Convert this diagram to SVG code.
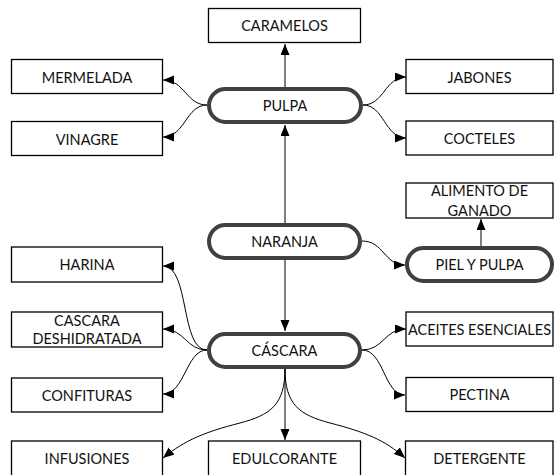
<svg xmlns="http://www.w3.org/2000/svg" width="555" height="475" viewBox="0 0 555 475">
<style>
.box{fill:#fff;stroke:#000;stroke-width:1.3}
.pill{fill:#fff;stroke:#404040;stroke-width:4}
text{font-family:Lato,"Open Sans",sans-serif;font-size:14.5px;fill:#111;text-anchor:middle}
.c{fill:none;stroke:#000;stroke-width:1}
</style>
<defs>
<marker id="ah" markerUnits="userSpaceOnUse" markerWidth="12" markerHeight="10" refX="11" refY="4.5" orient="auto">
<path d="M0,0 L11,4.5 L0,9 z" fill="#000"/>
</marker>
</defs>
<rect width="555" height="475" fill="#fff"/>
<g id="connectors">
<path class="c" d="M285,87 L285,44" marker-end="url(#ah)"/>
<path class="c" d="M285,223 L285,125" marker-end="url(#ah)"/>
<path class="c" d="M285,260 L285,331" marker-end="url(#ah)"/>
<path class="c" d="M481,246 L481,219" marker-end="url(#ah)"/>
<path class="c" d="M285,369 L285,440" marker-end="url(#ah)"/>
<path class="c" d="M207,105 C186,105 185,80 163,80" marker-end="url(#ah)"/>
<path class="c" d="M207,105 C186,105 185,137 163,137" marker-end="url(#ah)"/>
<path class="c" d="M363,105 C384,105 385,77 406,77" marker-end="url(#ah)"/>
<path class="c" d="M363,105 C384,105 385,138 406,138" marker-end="url(#ah)"/>
<path class="c" d="M362,241 C384,241 384,265 405,265" marker-end="url(#ah)"/>
<path class="c" d="M207,350 C180,350 190,266 163,266" marker-end="url(#ah)"/>
<path class="c" d="M207,350 C186,350 185,329 163,329" marker-end="url(#ah)"/>
<path class="c" d="M207,350 C186,350 185,394 163,394" marker-end="url(#ah)"/>
<path class="c" d="M362,350 C384,350 384,329 406,329" marker-end="url(#ah)"/>
<path class="c" d="M362,350 C384,350 384,395 405,395" marker-end="url(#ah)"/>
<path class="c" d="M285,369 C285,405 270,415 240,423 C205,432 185,440 163,458" marker-end="url(#ah)"/>
<path class="c" d="M285,369 C285,405 300,415 330,423 C365,432 385,440 405,458" marker-end="url(#ah)"/>
</g>
<g id="caramelos"><rect class="box" x="208.5" y="8.5" width="152" height="34"/><text x="284.5" y="31">CARAMELOS</text></g>
<g id="mermelada"><rect class="box" x="11.5" y="59.5" width="151" height="34"/><text x="87" y="82.5">MERMELADA</text></g>
<g id="vinagre"><rect class="box" x="11.5" y="121.5" width="151" height="34"/><text x="87" y="144.5">VINAGRE</text></g>
<g id="jabones"><rect class="box" x="406" y="59.5" width="147" height="34"/><text x="479.5" y="82.5">JABONES</text></g>
<g id="cocteles"><rect class="box" x="406" y="121" width="147" height="34"/><text x="479.5" y="144">COCTELES</text></g>
<g id="pulpa"><rect class="pill" x="209" y="89" width="152" height="33" rx="16.5"/><text x="285" y="111">PULPA</text></g>
<g id="alimento"><rect class="box" x="406" y="183" width="147" height="35"/><text x="479.5" y="195.5">ALIMENTO DE</text><text x="479.5" y="216">GANADO</text></g>
<g id="naranja"><rect class="pill" x="209" y="225" width="151" height="33" rx="16.5"/><text x="284.5" y="247">NARANJA</text></g>
<g id="pielypulpa"><rect class="pill" x="407" y="248" width="145" height="33" rx="16.5"/><text x="479.5" y="270">PIEL Y PULPA</text></g>
<g id="harina"><rect class="box" x="11.5" y="247" width="151" height="35"/><text x="87" y="270">HARINA</text></g>
<g id="cascaradesh"><rect class="box" x="11.5" y="312" width="151" height="35"/><text x="87" y="326">CASCARA</text><text x="87" y="343.5">DESHIDRATADA</text></g>
<g id="cascara"><rect class="pill" x="209" y="334" width="151" height="33" rx="16.5"/><text x="284.5" y="356">CÁSCARA</text></g>
<g id="aceites"><rect class="box" x="406" y="312" width="147" height="34"/><text x="479.5" y="334.5">ACEITES ESENCIALES</text></g>
<g id="confituras"><rect class="box" x="11.5" y="378" width="151" height="34"/><text x="87" y="400.5">CONFITURAS</text></g>
<g id="pectina"><rect class="box" x="406" y="377.5" width="147" height="34"/><text x="479.5" y="400">PECTINA</text></g>
<g id="infusiones"><rect class="box" x="11.5" y="441" width="151" height="36"/><text x="87" y="463.5">INFUSIONES</text></g>
<g id="edulcorante"><rect class="box" x="208.5" y="441" width="152" height="36"/><text x="284.5" y="463.5">EDULCORANTE</text></g>
<g id="detergente"><rect class="box" x="405.5" y="441" width="147.5" height="36"/><text x="479.5" y="463.5">DETERGENTE</text></g>
</svg>
